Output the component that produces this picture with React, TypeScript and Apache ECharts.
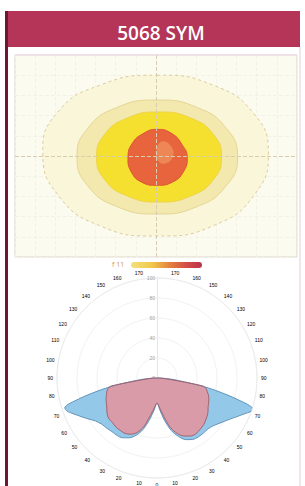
import React, { useEffect, useRef } from "react";
import * as echarts from "echarts";

// Isolux contour outlines (plan view, metres) — outermost to innermost
const contourOuter: number[][] = [
  [0.05, 4.0], [2.85, 3.5], [4.85, 2.1], [5.58, 0.2], [4.9, -1.9], [2.85, -3.45],
  [0.05, -3.96], [-2.8, -3.45], [-4.85, -1.95], [-5.62, 0.15], [-4.9, 2.15], [-2.8, 3.5],
];
const contourSecond: number[][] = [
  [0.05, 2.77], [2.05, 2.4], [3.5, 1.36], [4.05, -0.05], [3.5, -1.46], [2.05, -2.5],
  [0.05, -2.87], [-1.95, -2.5], [-3.4, -1.46], [-3.92, -0.05], [-3.4, 1.36], [-1.95, 2.4],
];
const contourYellow: number[][] = [
  [0.15, 2.18], [1.72, 1.88], [2.85, 1.07], [3.25, -0.05], [2.85, -1.17], [1.72, -1.98],
  [0.15, -2.28], [-1.42, -1.98], [-2.55, -1.17], [-2.95, -0.05], [-2.55, 1.07], [-1.42, 1.88],
];
const contourCore: number[][] = [
  [0.05, 1.32], [0.8, 1.1], [1.3, 0.55], [1.55, -0.05], [1.35, -0.8], [0.8, -1.3],
  [0.05, -1.45], [-0.7, -1.3], [-1.22, -0.8], [-1.39, -0.05], [-1.18, 0.62], [-0.65, 1.1],
];
const contourHot: number[][] = [
  [0.3, 0.7], [0.75, 0.45], [0.8, -0.05], [0.45, -0.35], [0.1, -0.2], [0.05, 0.3],
];

// Polar intensity curves (cd/klm) by gamma angle
const gammaAngles = [0, 5, 10, 15, 20, 25, 30, 35, 40, 45, 50, 55, 60, 65, 68, 70, 72, 75, 78, 80, 82, 85, 88, 90];
const c0Left = [25, 32, 42, 53, 61, 66, 69, 70, 70, 71, 72, 75, 81, 88, 93, 96, 97, 81, 58, 42, 27, 14, 5, 0];
const c0Right = [25, 32, 43, 54, 62, 68, 71, 72, 72, 72, 74, 78, 83, 90, 95, 99, 101, 84, 60, 44, 28, 15, 6, 0];
const c90Left = [25, 30, 38, 50, 58, 62, 64, 64, 64, 63, 63, 61, 58, 56, 55, 54, 53, 52, 50, 47, 22, 9, 3, 0];
const c90Right = [25, 30, 39, 51, 59, 64, 67, 68, 67, 66, 64, 62, 59, 57, 56, 55, 54, 52, 50, 47, 22, 9, 3, 0];

const title = "5068 SYM";

const contours = [contourOuter, contourSecond, contourYellow, contourCore, contourHot];
const contourStyles = [
  { fill: "#faf6da", stroke: "#dccb9e", lineDash: [3, 3] },
  { fill: "#f3e8ae", stroke: "#e6d595", lineDash: null },
  { fill: "#f6e02f", stroke: "#eed44a", lineDash: null },
  { fill: "#e8643d", stroke: "#dc5532", lineDash: null },
  { fill: "#ee8756", stroke: "#ee8756", lineDash: null },
];

function buildPolar(left: number[], right: number[]) {
  const pts: number[][] = [];
  for (let i = gammaAngles.length - 1; i >= 0; i--) pts.push([left[i], gammaAngles[i]]);
  for (let i = 1; i < gammaAngles.length; i++) pts.push([right[i], -gammaAngles[i]]);
  return pts;
}

export default function App() {
  const ref = useRef<HTMLDivElement>(null);
  useEffect(() => {
    if (!ref.current) return;
    const chart = echarts.init(ref.current, null, { renderer: "svg" });
    const option: any = {
      animation: false,
      title: {
        text: title,
        left: 156,
        textAlign: "center",
        top: 18,
        textStyle: { color: "#ffffff", fontSize: 19, fontWeight: 600, fontFamily: "Open Sans" },
      },
      graphic: [
        { type: "rect", shape: { x: 5, y: 11, width: 295, height: 36 }, style: { fill: "#b43558" }, z: -10 },
        { type: "rect", shape: { x: 5, y: 11, width: 3, height: 475 }, style: { fill: "#6b1830" }, z: -9 },
        { type: "line", shape: { x1: 300, y1: 47, x2: 300, y2: 486 }, style: { stroke: "#e6cbd4", lineWidth: 1 }, z: -9 },
        { type: "line", shape: { x1: 15, y1: 55, x2: 297, y2: 55 }, style: { stroke: "#efd6e2", lineWidth: 1 }, z: 10 },
        {
          type: "rect",
          shape: { x: 131, y: 262, width: 71, height: 6, r: 3 },
          style: {
            fill: new echarts.graphic.LinearGradient(0, 0, 1, 0, [
              { offset: 0, color: "#f3e27a" },
              { offset: 0.3, color: "#f0c84a" },
              { offset: 0.55, color: "#e4803e" },
              { offset: 0.8, color: "#d24a48" },
              { offset: 1, color: "#b8344a" },
            ]),
          },
        },
        { type: "text", x: 112, y: 261, style: { text: "f 11", fontSize: 7, fill: "#c89a60", fontFamily: "Open Sans" } },
      ],
      grid: {
        left: 15, right: 8, top: 55, bottom: 229,
        show: true, backgroundColor: "#fbfbf0", borderColor: "#dad5cc", borderWidth: 1,
      },
      xAxis: {
        type: "value", min: -7, max: 7, interval: 1,
        axisLabel: { show: false }, axisTick: { show: false },
        axisLine: { show: false },
        splitLine: { show: true, lineStyle: { color: "#f3f2e6", type: "dashed" } },
      },
      yAxis: {
        type: "value", min: -5, max: 5, interval: 1,
        axisLabel: { show: false }, axisTick: { show: false },
        axisLine: { show: false },
        splitLine: { show: true, lineStyle: { color: "#f3f2e6", type: "dashed" } },
      },
      polar: { center: [157, 378], radius: 100 },
      angleAxis: {
        type: "value", min: -180, max: 180, interval: 10, startAngle: 90, clockwise: true,
        axisLine: { show: true, lineStyle: { color: "#ececec", width: 1 } },
        axisTick: { show: false },
        splitLine: { show: false },
        axisLabel: {
          show: true, fontSize: 5, margin: 4,
          color: (v: any) => (Math.abs(Number(v)) > 90 ? "#d4b58a" : "#bdbdbd"),
          formatter: (v: number) => (v === -180 ? "" : String(Math.abs(v))),
        },
      },
      radiusAxis: {
        type: "value", min: 0, max: 100, interval: 20,
        axisLine: { show: true, lineStyle: { color: "#e6e6e6" } },
        axisTick: { show: false },
        axisLabel: { fontSize: 5, color: "#a0a0a0", margin: 2 },
        splitLine: { show: true, lineStyle: { color: "#f2f2f2" } },
      },
      series: [
        {
          type: "custom",
          coordinateSystem: "cartesian2d",
          data: contours.map((_, i) => [0, 0, i]),
          encode: { x: 0, y: 1 },
          renderItem: (params: any, api: any) => {
            const i = params.dataIndex;
            const pts = contours[i].map((p) => api.coord(p));
            const st = contourStyles[i];
            return {
              type: "polygon",
              shape: { points: pts, smooth: 0.5 },
              style: { fill: st.fill, stroke: st.stroke, lineWidth: 1, lineDash: st.lineDash },
            };
          },
          markLine: {
            silent: true, symbol: "none", label: { show: false },
            lineStyle: { color: "#d6cdb0", type: "dashed", width: 1 },
            data: [{ xAxis: 0 }, { yAxis: 0 }],
          },
        },
        {
          type: "line", coordinateSystem: "polar", name: "C0-C180",
          data: buildPolar(c0Left, c0Right),
          symbol: "none", smooth: 0.3,
          lineStyle: { color: "#6393bb", width: 1 },
          areaStyle: { color: "#93c8e8", opacity: 1 },
        },
        {
          type: "line", coordinateSystem: "polar", name: "C90-C270",
          data: buildPolar(c90Left, c90Right),
          symbol: "none", smooth: 0.3,
          lineStyle: { color: "#a3626f", width: 1 },
          areaStyle: { color: "#d99ba7", opacity: 1 },
        },
      ],
    };
    chart.setOption(option);
    return () => chart.dispose();
  }, []);
  return <div ref={ref} style={{ position: "absolute", left: 0, top: 0, width: 305, height: 486 }} />;
}
